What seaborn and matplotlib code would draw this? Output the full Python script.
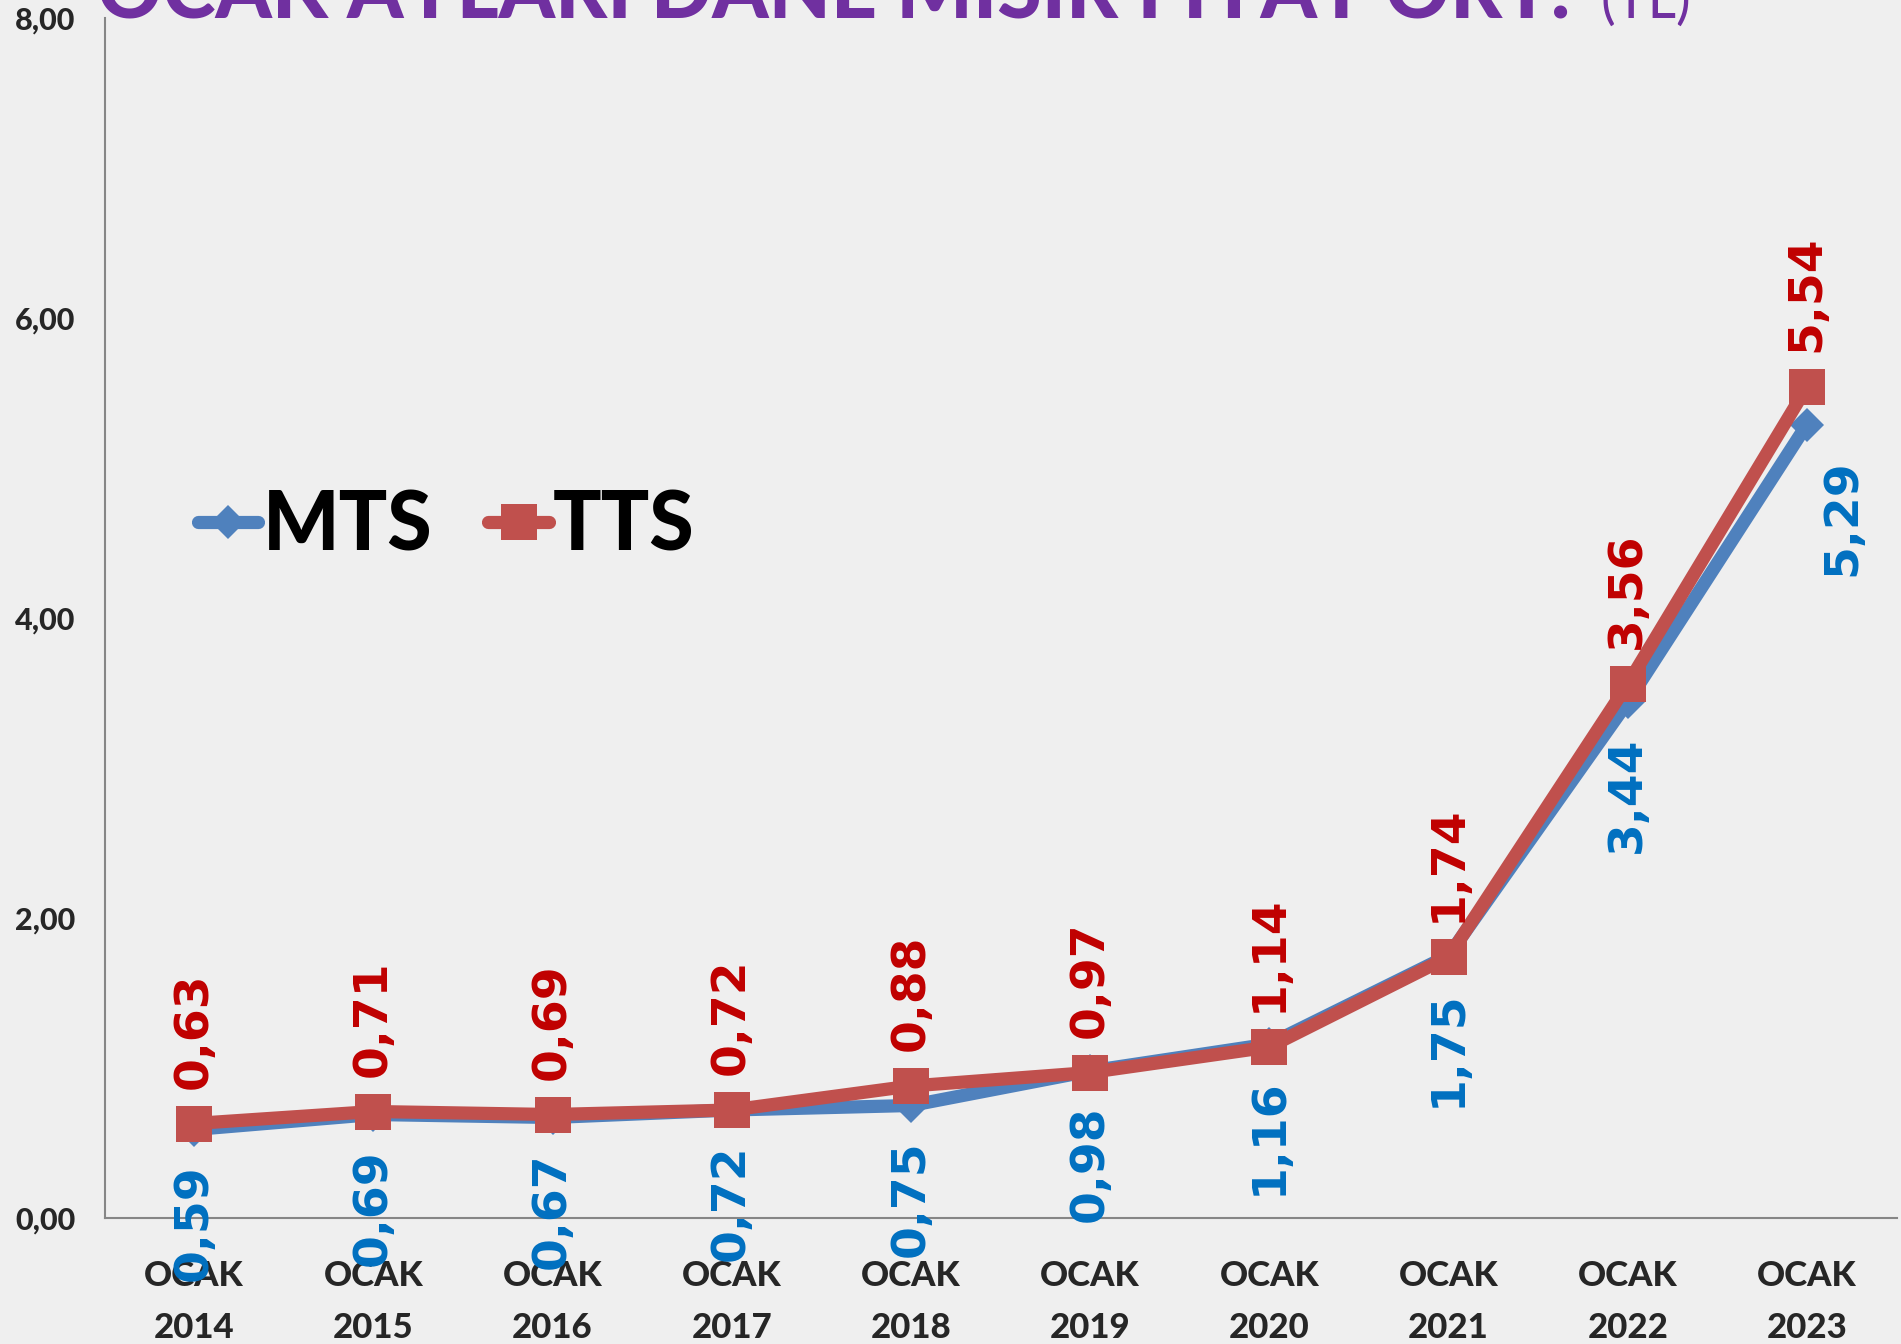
import matplotlib
matplotlib.use("Agg")
import matplotlib.pyplot as plt
import seaborn as sns
import pandas as pd
import numpy as np
from matplotlib.ticker import FixedLocator

# ---- data ----
categories = ["OCAK\n2014", "OCAK\n2015", "OCAK\n2016", "OCAK\n2017", "OCAK\n2018",
              "OCAK\n2019", "OCAK\n2020", "OCAK\n2021", "OCAK\n2022", "OCAK\n2023"]
mts = [0.59, 0.69, 0.67, 0.72, 0.75, 0.98, 1.16, 1.75, 3.44, 5.29]
tts = [0.63, 0.71, 0.69, 0.72, 0.88, 0.97, 1.14, 1.74, 3.56, 5.54]
y_ticks = [0, 2, 4, 6, 8]
y_tick_labels = ["0,00", "2,00", "4,00", "6,00", "8,00"]
title_main = "OCAK AYLARI DANE MISIR FİYAT ORT."
title_unit = "(TL)"

sns.set_style("white")
plt.rcParams['font.family'] = ['Lato', 'DejaVu Sans']

W, H = 1901, 1344
fig = plt.figure(figsize=(W / 100, H / 100), dpi=100, facecolor='#EFEFEF')
ax = fig.add_axes([104.5 / W, 1 - 1218 / H, (1896.5 - 104.5) / W, (1218 - 18) / H])
ax.set_facecolor('none')

x = np.arange(len(categories))
df = pd.DataFrame({'x': x, 'MTS': mts, 'TTS': tts})

sns.lineplot(data=df, x='x', y='MTS', ax=ax, color='#4F81BD', lw=9.5, marker='D',
             markersize=17, markeredgewidth=0, label='MTS', zorder=3)
sns.lineplot(data=df, x='x', y='TTS', ax=ax, color='#C0504D', lw=9.5, marker='s',
             markersize=26, markeredgewidth=0, label='TTS', zorder=4)

ax.set_xlim(-0.5, len(categories) - 0.5)
ax.set_ylim(0, 8)
ax.set_xlabel("")
ax.set_ylabel("")

ax.set_xticks(x)
ax.set_xticklabels(categories, fontsize=25, fontweight='black', linespacing=1.8)
ax.xaxis.set_minor_locator(FixedLocator(np.arange(-0.5, len(categories), 1.0)))
ax.tick_params(axis='x', which='major', length=0, pad=30)
ax.tick_params(axis='x', which='minor', length=10, width=1.5, color='#868686', direction='out')

ax.set_yticks(y_ticks)
ax.set_yticklabels(y_tick_labels, fontsize=22, fontweight='black')
ax.tick_params(axis='y', which='major', length=8, width=1.5, color='#868686', direction='out', pad=13)

for s in ['top', 'right']:
    ax.spines[s].set_visible(False)
for s in ['left', 'bottom']:
    ax.spines[s].set_color('#868686')
    ax.spines[s].set_linewidth(1.5)

def fmt(v):
    return f"{v:.2f}".replace(".", ",")

for i, v in enumerate(tts):
    ax.annotate(fmt(v), (i, v), xytext=(0, 25), textcoords='offset points', rotation=90,
                ha='center', va='bottom', fontsize=34, fontweight='bold',
                family='DejaVu Sans', color='#C00000', annotation_clip=False, zorder=6)
for i, v in enumerate(mts):
    dx = 26 if i == len(mts) - 1 else 0
    ax.annotate(fmt(v), (i, v), xytext=(dx, -25), textcoords='offset points', rotation=90,
                ha='center', va='top', fontsize=34, fontweight='bold',
                family='DejaVu Sans', color='#0070C0', annotation_clip=False, zorder=6)

leg = ax.legend(loc='center left', bbox_to_anchor=(198 / W, 1 - 527 / H),
                bbox_transform=fig.transFigure, ncol=2, frameon=False,
                prop={'family': 'Lato', 'weight': 'black', 'size': 58},
                handlelength=0.75, handletextpad=0.05, columnspacing=0.7,
                borderpad=0, borderaxespad=0)
for t in leg.get_texts():
    t.set_color('black')

fig.text(97 / W, 1 - 18 / H, title_main, fontsize=58, fontweight='black',
         color='#7030A0', va='baseline', ha='left')
fig.text(1600 / W, 1 - 18 / H, title_unit, fontsize=40, color='#7030A0',
         va='baseline', ha='left')

fig.savefig("out.png", dpi=100, facecolor=fig.get_facecolor())
